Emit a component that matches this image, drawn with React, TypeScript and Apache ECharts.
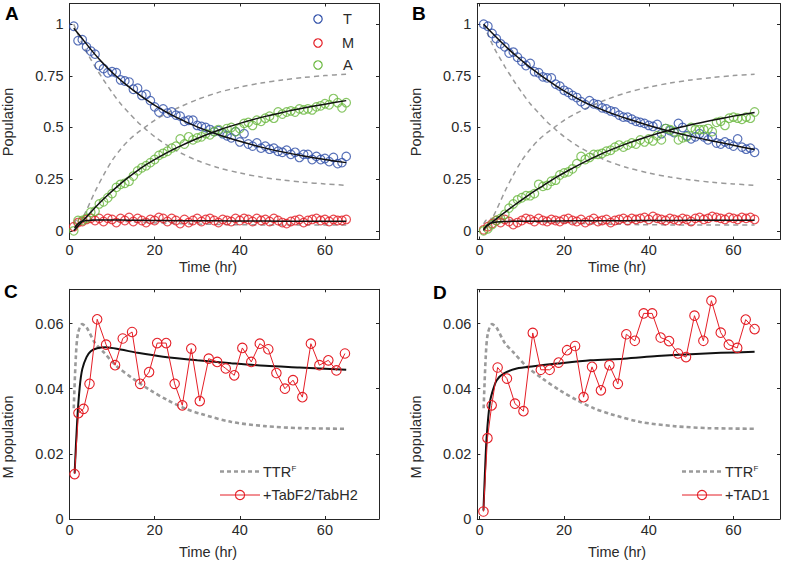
import React, { useEffect, useRef } from "react";
import * as echarts from "echarts";

// ---------- DATA ----------
const HOURS = [1,2,3,4,5,6,7,8,9,10,11,12,13,14,15,16,17,18,19,20,21,22,23,24,25,26,27,28,29,30,31,32,33,34,35,36,37,38,39,40,41,42,43,44,45,46,47,48,49,50,51,52,53,54,55,56,57,58,59,60,61,62,63,64,65];

// Panel A data (TTRF + TabF2/TabH2)
const A_T = [0.99,0.92,0.925,0.89,0.87,0.855,0.8,0.785,0.765,0.77,0.765,0.73,0.725,0.72,0.685,0.69,0.655,0.66,0.63,0.6,0.575,0.59,0.57,0.575,0.56,0.555,0.53,0.535,0.535,0.51,0.505,0.5,0.49,0.48,0.485,0.47,0.46,0.45,0.48,0.43,0.47,0.42,0.41,0.425,0.4,0.41,0.395,0.4,0.385,0.38,0.39,0.37,0.38,0.355,0.37,0.37,0.345,0.36,0.345,0.35,0.335,0.355,0.325,0.33,0.36];
const A_M = [0.02,0.04,0.045,0.055,0.06,0.05,0.06,0.045,0.06,0.055,0.04,0.06,0.05,0.065,0.045,0.06,0.05,0.04,0.055,0.05,0.065,0.06,0.045,0.06,0.05,0.035,0.055,0.04,0.05,0.06,0.045,0.055,0.06,0.05,0.04,0.055,0.05,0.045,0.06,0.05,0.06,0.055,0.045,0.06,0.05,0.055,0.045,0.06,0.05,0.04,0.035,0.045,0.05,0.055,0.04,0.05,0.055,0.06,0.05,0.055,0.045,0.055,0.05,0.05,0.055];
const A_A = [0,0.05,0.05,0.06,0.09,0.095,0.13,0.14,0.16,0.18,0.21,0.225,0.23,0.24,0.265,0.29,0.305,0.315,0.33,0.345,0.365,0.375,0.385,0.4,0.41,0.445,0.42,0.455,0.44,0.45,0.455,0.47,0.465,0.48,0.49,0.475,0.495,0.5,0.48,0.495,0.52,0.525,0.51,0.535,0.53,0.545,0.555,0.545,0.575,0.565,0.575,0.58,0.575,0.59,0.585,0.59,0.585,0.6,0.605,0.615,0.61,0.64,0.62,0.595,0.62];

// Panel B data (TTRF + TAD1)
const B_T = [1,0.99,0.955,0.93,0.905,0.89,0.86,0.865,0.84,0.82,0.8,0.81,0.77,0.765,0.745,0.74,0.74,0.71,0.7,0.68,0.67,0.655,0.645,0.625,0.61,0.63,0.615,0.61,0.595,0.59,0.58,0.575,0.56,0.55,0.55,0.54,0.53,0.525,0.52,0.51,0.505,0.515,0.47,0.495,0.485,0.475,0.52,0.5,0.46,0.445,0.455,0.47,0.455,0.44,0.455,0.425,0.42,0.43,0.42,0.41,0.445,0.405,0.395,0.4,0.38];
const B_M = [0.005,0.02,0.035,0.05,0.04,0.055,0.045,0.03,0.04,0.05,0.06,0.055,0.045,0.06,0.05,0.045,0.055,0.05,0.045,0.055,0.06,0.05,0.045,0.055,0.04,0.05,0.06,0.045,0.05,0.055,0.04,0.05,0.055,0.06,0.05,0.06,0.055,0.06,0.065,0.055,0.07,0.06,0.055,0.05,0.06,0.055,0.05,0.06,0.055,0.045,0.06,0.065,0.055,0.06,0.07,0.065,0.06,0.055,0.065,0.06,0.055,0.065,0.06,0.065,0.055];
const B_A = [0,0.01,0.03,0.05,0.06,0.08,0.11,0.13,0.15,0.16,0.17,0.17,0.18,0.225,0.215,0.22,0.24,0.245,0.27,0.28,0.285,0.3,0.325,0.36,0.345,0.355,0.37,0.37,0.375,0.385,0.39,0.405,0.415,0.405,0.415,0.425,0.42,0.44,0.43,0.445,0.435,0.46,0.44,0.495,0.49,0.48,0.44,0.45,0.455,0.5,0.49,0.49,0.49,0.495,0.48,0.525,0.53,0.51,0.545,0.55,0.545,0.54,0.55,0.545,0.575];

// Model fits (black)
const FIT_TIME = [1,3,5,7,9,11,13,15,18,21,25,30,35,40,45,50,55,60,65];
const FIT_A_T = [0.98,0.93,0.878,0.83,0.787,0.748,0.712,0.68,0.635,0.595,0.55,0.503,0.465,0.433,0.405,0.382,0.362,0.345,0.33];
const FIT_A_A = [0,0.045,0.09,0.133,0.173,0.21,0.245,0.277,0.32,0.357,0.4,0.447,0.487,0.52,0.549,0.573,0.594,0.613,0.63];
const FIT_B_T = [1,0.957,0.916,0.877,0.841,0.807,0.775,0.745,0.703,0.665,0.62,0.578,0.542,0.51,0.482,0.457,0.435,0.414,0.393];
const FIT_B_A = [0.01,0.042,0.074,0.105,0.135,0.164,0.192,0.218,0.257,0.292,0.335,0.383,0.423,0.458,0.488,0.513,0.535,0.555,0.573];

const FIT_M_C_TIME = [1.2,1.8,2.4,3,4,5,6.5,8.5,12,16,22,30,38,46,54,65];
const FIT_M_C = [0.014,0.03,0.0405,0.046,0.0497,0.0515,0.0524,0.0527,0.052,0.051,0.0498,0.0487,0.0478,0.047,0.0465,0.0458];
const FIT_M_D_TIME = [0.95,1.3,1.7,2.5,3.3,4.1,5.7,8.8,12.8,18.3,26.2,34.1,42,49.9,57,65];
const FIT_M_D = [0.0026,0.014,0.025,0.036,0.04,0.0426,0.0446,0.0462,0.0469,0.0477,0.0487,0.0492,0.05,0.0506,0.051,0.0513];

// TTR^F reference (gray dashed)
const GRAY_TIME = [1,2,3,4,5,6,8,10,12,14,16,18,20,23,26,30,35,40,45,50,55,60,65];
const GRAY_T = [1,0.95,0.905,0.865,0.83,0.795,0.73,0.67,0.615,0.57,0.527,0.49,0.456,0.413,0.378,0.34,0.305,0.28,0.26,0.246,0.235,0.227,0.22];
const GRAY_A = [0,0.03,0.06,0.1,0.145,0.19,0.27,0.34,0.395,0.44,0.475,0.505,0.535,0.57,0.6,0.635,0.67,0.695,0.715,0.73,0.742,0.751,0.758];
const GRAY_M_TIME = [1,1.5,2,3,4,6,8,11,15,19,23,27,31,38,46,54,65];
const GRAY_M = [0.034,0.05,0.057,0.0598,0.0588,0.054,0.0512,0.047,0.043,0.0395,0.0365,0.034,0.0322,0.0298,0.0285,0.0279,0.0277];

// Panel C / D measured M population
const TIME_C = [1.2,2.1,3.3,4.7,6.5,8.6,10.7,12.5,14.7,16.6,18.7,20.6,22.7,24.7,26.5,28.6,30.6,32.7,34.7,36.7,38.7,40.6,42.7,44.7,46.7,48.6,50.6,52.5,54.7,56.7,58.7,60.8,62.7,64.7];
const M_C = [0.0138,0.0325,0.0338,0.0415,0.0613,0.0535,0.0472,0.0554,0.0574,0.0415,0.0451,0.054,0.054,0.0415,0.0349,0.0523,0.0362,0.0492,0.0482,0.0462,0.0441,0.0525,0.0482,0.0538,0.0521,0.0448,0.04,0.0426,0.0374,0.0538,0.0472,0.0487,0.0456,0.0508];
const TIME_D = [0.95,1.9,2.9,4.3,6.5,8.4,10.4,12.6,14.5,16.6,18.7,20.7,22.6,24.6,26.6,28.7,30.7,32.7,34.7,36.7,38.8,40.8,42.8,44.8,46.9,48.8,50.8,52.9,54.8,57,58.9,60.9,62.9,65];
const M_D = [0.0023,0.0248,0.0349,0.0465,0.0431,0.0354,0.0331,0.0571,0.0458,0.0458,0.048,0.0518,0.0531,0.0374,0.0467,0.0395,0.0472,0.0415,0.0567,0.0547,0.0631,0.0631,0.0557,0.0546,0.0508,0.0497,0.0624,0.0547,0.067,0.0572,0.0535,0.0525,0.0612,0.0583];

const X_TICKS = [0, 20, 40, 60];
const Y_TICKS_POP = [0, 0.25, 0.5, 0.75, 1];
const Y_TICKS_M = [0, 0.02, 0.04, 0.06];

// ---------- STYLE ----------
const FONT = "'Liberation Sans', Arial, Helvetica, sans-serif";
const AX = "#262626";
const TXT = "#2a2a2a";
const BLUE = "#2f4fa8";
const RED = "#e41e26";
const GREEN = "#6ab83f";
const GRAY = "#9a9a9a";
const FS = 14.5;

const pairs = (xs: number[], ys: number[]) => xs.map((x, i) => [x, ys[i]]);

function App() {
  const ref = useRef<HTMLDivElement>(null);
  useEffect(() => {
    if (!ref.current) return;
    const chart = echarts.init(ref.current, null, { renderer: "svg" });

    const grids = [
      { left: 69.5, top: 3.5, width: 309.5, height: 236 },
      { left: 477.3, top: 3.5, width: 302.7, height: 236 },
      { left: 69.5, top: 289.3, width: 309.5, height: 229.7 },
      { left: 477.3, top: 289.3, width: 302.7, height: 229.7 },
    ];
    const xRanges = [[0, 72.7], [-0.5, 71], [0, 72.7], [-0.5, 71]];
    const yRanges = [[-0.042, 1.1], [-0.042, 1.1], [0, 0.0705], [0, 0.0705]];
    const yTicks = [Y_TICKS_POP, Y_TICKS_POP, Y_TICKS_M, Y_TICKS_M];

    const xAxis: any[] = [];
    const yAxis: any[] = [];
    grids.forEach((_, g) => {
      ["bottom", "top"].forEach((pos, k) => {
        xAxis.push({
          type: "value", gridIndex: g, position: pos, min: xRanges[g][0], max: xRanges[g][1],
          axisLine: { show: true, onZero: false, lineStyle: { color: AX, width: 1 } },
          axisTick: { show: true, inside: true, length: 3, customValues: X_TICKS, lineStyle: { color: AX, width: 1 } },
          axisLabel: { show: k === 0, customValues: X_TICKS, margin: 3, fontSize: FS, color: TXT, fontFamily: FONT },
          splitLine: { show: false },
        });
      });
      ["left", "right"].forEach((pos, k) => {
        yAxis.push({
          type: "value", gridIndex: g, position: pos, min: yRanges[g][0], max: yRanges[g][1],
          axisLine: { show: true, onZero: false, lineStyle: { color: AX, width: 1 } },
          axisTick: { show: true, inside: true, length: 3, customValues: yTicks[g], lineStyle: { color: AX, width: 1 } },
          axisLabel: { show: k === 0, customValues: yTicks[g], margin: 6, fontSize: FS, color: TXT, fontFamily: FONT,
            formatter: (v: number) => (v === 0 ? "0" : String(v)) },
          splitLine: { show: false },
        });
      });
    });

    const line = (g: number, xs: number[], ys: number[], color: string, width: number, dash: any, z: number) => ({
      type: "line", xAxisIndex: 2 * g, yAxisIndex: 2 * g, data: pairs(xs, ys),
      showSymbol: false, symbol: "none", smooth: 0.3,
      lineStyle: { color, width, type: dash, cap: "butt" }, z, silent: true,
    });
    const scatter = (g: number, xs: number[], ys: number[], color: string) => ({
      type: "scatter", xAxisIndex: 2 * g, yAxisIndex: 2 * g, data: pairs(xs, ys),
      symbol: "circle", symbolSize: 8.5,
      itemStyle: { color: "rgba(0,0,0,0)", borderColor: color, borderWidth: 1.2 }, z: 3, silent: true,
    });
    const markedLine = (g: number, xs: number[], ys: number[]) => ({
      type: "line", xAxisIndex: 2 * g, yAxisIndex: 2 * g, data: pairs(xs, ys),
      showSymbol: true, symbol: "circle", symbolSize: 9.5,
      itemStyle: { color: "rgba(0,0,0,0)", borderColor: RED, borderWidth: 1.1 },
      lineStyle: { color: RED, width: 1 }, z: 4, silent: true,
    });

    const series: any[] = [];
    const abDash = [5, 4];
    // Panel A
    series.push(line(0, GRAY_TIME, GRAY_T, GRAY, 1.5, abDash, 2));
    series.push(line(0, GRAY_TIME, GRAY_A, GRAY, 1.5, abDash, 2));
    series.push(line(0, GRAY_M_TIME, GRAY_M, GRAY, 1.5, abDash, 2));
    series.push(scatter(0, HOURS, A_T, BLUE));
    series.push(scatter(0, HOURS, A_M, RED));
    series.push(scatter(0, HOURS, A_A, GREEN));
    series.push(line(0, FIT_TIME, FIT_A_T, "#111", 1.5, "solid", 5));
    series.push(line(0, FIT_TIME, FIT_A_A, "#111", 1.5, "solid", 5));
    series.push(line(0, FIT_M_C_TIME, FIT_M_C, "#111", 1.5, "solid", 5));
    // Panel B
    series.push(line(1, GRAY_TIME, GRAY_T, GRAY, 1.5, abDash, 2));
    series.push(line(1, GRAY_TIME, GRAY_A, GRAY, 1.5, abDash, 2));
    series.push(line(1, GRAY_M_TIME, GRAY_M, GRAY, 1.5, abDash, 2));
    series.push(scatter(1, HOURS, B_T, BLUE));
    series.push(scatter(1, HOURS, B_M, RED));
    series.push(scatter(1, HOURS, B_A, GREEN));
    series.push(line(1, FIT_TIME, FIT_B_T, "#111", 1.5, "solid", 5));
    series.push(line(1, FIT_TIME, FIT_B_A, "#111", 1.5, "solid", 5));
    series.push(line(1, FIT_M_D_TIME, FIT_M_D, "#111", 1.5, "solid", 5));
    // Panel C
    series.push(line(2, GRAY_M_TIME, GRAY_M, GRAY, 2.6, [4, 3], 2));
    series.push(line(2, FIT_M_C_TIME, FIT_M_C, "#111", 2, "solid", 3));
    series.push(markedLine(2, TIME_C, M_C));
    // Panel D
    series.push(line(3, GRAY_M_TIME, GRAY_M, GRAY, 2.6, [4, 3], 2));
    series.push(line(3, FIT_M_D_TIME, FIT_M_D, "#111", 2, "solid", 3));
    series.push(markedLine(3, TIME_D, M_D));

    const txt = (text: string, x: number, y: number, extra: any = {}, rot = 0) => ({
      type: "text", x, y, rotation: rot, silent: true,
      style: { text, fill: TXT, fontSize: FS, fontFamily: FONT, align: "center", verticalAlign: "middle", ...extra },
    });
    const bold = { fontSize: 19, fontWeight: "bold", fill: "#000", align: "left", verticalAlign: "top" };

    const graphic: any[] = [
      txt("A", 5, 4, bold), txt("B", 412, 4, bold), txt("C", 4, 282, bold), txt("D", 433, 283, bold),
      txt("Population", 8, 122, {}, Math.PI / 2),
      txt("Population", 416, 122, {}, Math.PI / 2),
      txt("M population", 8, 437, {}, Math.PI / 2),
      txt("M population", 416, 437, {}, Math.PI / 2),
      txt("Time (hr)", 208, 266.5), txt("Time (hr)", 617, 266.5),
      txt("Time (hr)", 208, 551.5), txt("Time (hr)", 617, 551.5),
      // legend A
      { type: "circle", shape: { cx: 318, cy: 19, r: 4.2 }, style: { fill: "none", stroke: BLUE, lineWidth: 1.2 } },
      { type: "circle", shape: { cx: 318, cy: 43, r: 4.2 }, style: { fill: "none", stroke: RED, lineWidth: 1.2 } },
      { type: "circle", shape: { cx: 318, cy: 65, r: 4.2 }, style: { fill: "none", stroke: GREEN, lineWidth: 1.2 } },
      txt("T", 343, 19, { align: "left" }), txt("M", 342, 43, { align: "left" }), txt("A", 343, 65, { align: "left" }),
    ];
    const legendCD = (x0: number, label: string) => [
      { type: "line", shape: { x1: x0, y1: 471.5, x2: x0 + 40, y2: 471.5 }, style: { stroke: GRAY, lineWidth: 2.6, lineDash: [4, 3] } },
      txt("TTR", x0 + 43, 472, { align: "left" }),
      txt("F", x0 + 71.5, 468, { align: "left", fontSize: 8 }),
      { type: "line", shape: { x1: x0, y1: 495, x2: x0 + 40, y2: 495 }, style: { stroke: RED, lineWidth: 1 } },
      { type: "circle", shape: { cx: x0 + 20, cy: 495, r: 4.6 }, style: { fill: "none", stroke: RED, lineWidth: 1.1 } },
      txt(label, x0 + 43, 495, { align: "left" }),
    ];
    graphic.push(...legendCD(220, "+TabF2/TabH2"));
    graphic.push(...legendCD(682, "+TAD1"));

    chart.setOption({
      animation: false,
      backgroundColor: "#fff",
      grid: grids.map((g) => ({ ...g, outerBoundsMode: "none", containLabel: false })),
      xAxis, yAxis, series, graphic,
    });
    return () => chart.dispose();
  }, []);
  return <div ref={ref} style={{ position: "absolute", left: 0, top: 0, width: 785, height: 566 }} />;
}

export default App;
